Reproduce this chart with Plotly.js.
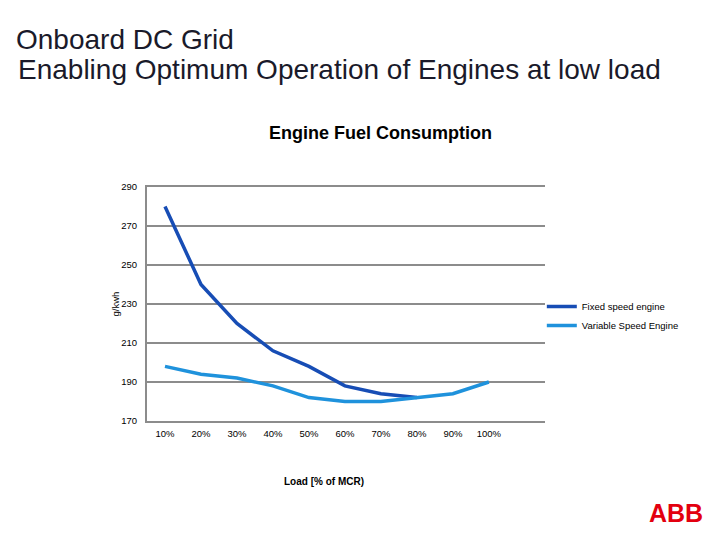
<!DOCTYPE html>
<html>
<head>
<meta charset="utf-8">
<script src="https://cdn.plot.ly/plotly-3.0.1.min.js"></script>
<style>html,body{margin:0;padding:0;background:#fff;}#chart{width:720px;height:540px;}</style>
</head>
<body>
<div id="chart"></div>
<script>
const categories = ["10%", "20%", "30%", "40%", "50%", "60%", "70%", "80%", "90%", "100%"];
const fixedSpeed = [280, 240, 220, 206, 198, 188, 184, 182];
const variableSpeed = [198, 194, 192, 188, 182, 180, 180, 182, 184, 190];
const yTicks = [170, 190, 210, 230, 250, 270, 290];

const idx = categories.map((c, i) => i);

const traces = [
  {
    x: idx.slice(0, fixedSpeed.length), y: fixedSpeed, type: "scatter", mode: "lines",
    name: "Fixed speed engine", line: {color: "#174db5", width: 3.5}
  },
  {
    x: idx, y: variableSpeed, type: "scatter", mode: "lines",
    name: "Variable Speed Engine", line: {color: "#1f92dc", width: 3.5}
  }
];

const layout = {
  width: 720, height: 540,
  margin: {l: 147, r: 175, t: 187, b: 119},
  paper_bgcolor: "#fff", plot_bgcolor: "#fff",
  font: {family: "Liberation Sans, Arial, sans-serif", color: "#000"},
  showlegend: true,
  legend: {x: 0.992, y: 0.449, xanchor: "left", yanchor: "middle", font: {size: 9.5, color: "#000"},
           bgcolor: "rgba(0,0,0,0)", tracegroupgap: 0},
  xaxis: {
    range: [-0.5, 10.56], tickvals: idx, ticktext: categories, showgrid: false, zeroline: false,
    showline: true, mirror: true, linecolor: "#8c8c8c", linewidth: 2,
    ticks: "", tickfont: {size: 9.5, color: "#000"}, ticklabelstandoff: 3
  },
  yaxis: {
    range: [170, 290], tickvals: yTicks, showgrid: true, gridcolor: "#8c8c8c", gridwidth: 2,
    zeroline: false, showline: true, linecolor: "#8c8c8c", linewidth: 2, ticks: "",
    tickfont: {size: 9.5, color: "#000"}, ticklabelstandoff: 6,
    title: {text: "g/kwh", font: {size: 9.5, color: "#000"}, standoff: 0}
  },
  annotations: [
    {text: "Onboard DC Grid", xref: "paper", yref: "paper", x: (14 - 147) / 398, y: (540 - 119 - 39) / 234,
     xanchor: "left", yanchor: "middle", showarrow: false, font: {size: 28, color: "#1a1a2a"}},
    {text: "Enabling Optimum Operation of Engines at low load", xref: "paper", yref: "paper",
     x: (16 - 147) / 398, y: (540 - 119 - 69) / 234, xanchor: "left", yanchor: "middle", showarrow: false,
     font: {size: 28, color: "#1a1a2a"}},
    {text: "<b>Engine Fuel Consumption</b>", xref: "paper", yref: "paper", x: (380 - 147) / 398,
     y: (540 - 119 - 133) / 234, xanchor: "center", yanchor: "middle", showarrow: false,
     font: {size: 18, color: "#000"}},
    {text: "<b>Load [% of MCR)</b>", xref: "paper", yref: "paper", x: (324 - 147) / 398,
     y: (540 - 119 - 481) / 234, xanchor: "center", yanchor: "middle", showarrow: false,
     font: {size: 10, color: "#000"}},
    {text: "<b>ABB</b>", xref: "paper", yref: "paper", x: (705 - 147) / 398,
     y: (540 - 119 - 513) / 234, xanchor: "right", yanchor: "middle", showarrow: false,
     font: {size: 25, color: "#e3000f", family: "Liberation Sans, Arial, sans-serif"}}
  ]
};

Plotly.newPlot("chart", traces, layout, {displayModeBar: false, staticPlot: true});
</script>
</body>
</html>
